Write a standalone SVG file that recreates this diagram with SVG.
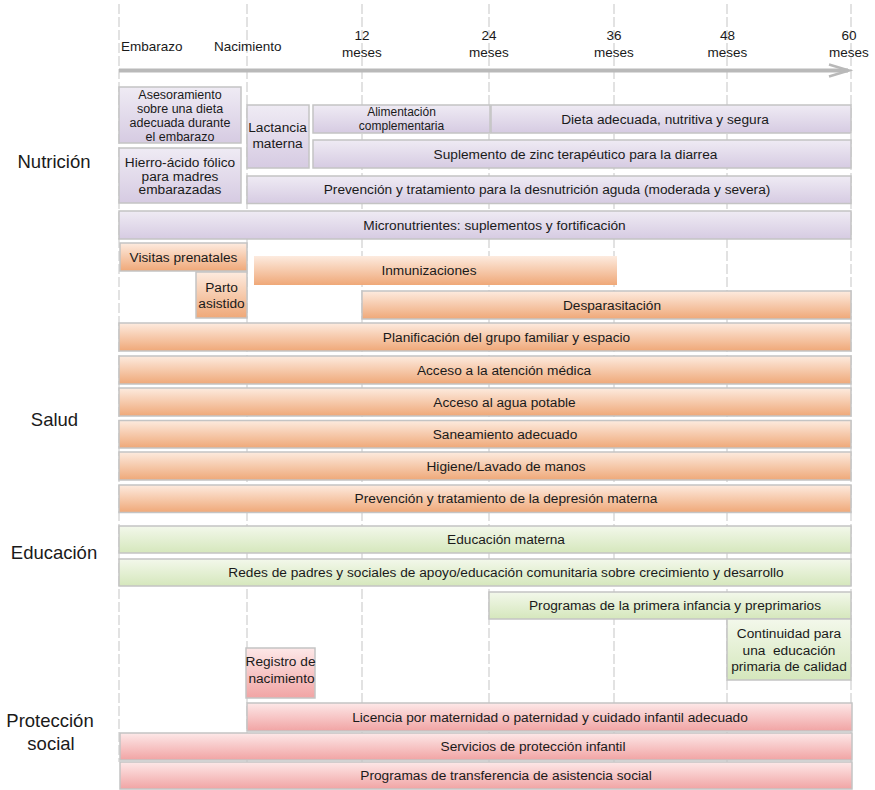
<svg xmlns="http://www.w3.org/2000/svg" width="875" height="790" viewBox="0 0 875 790">
<defs>
<linearGradient id="gN" x1="0" y1="0" x2="0" y2="1"><stop offset="0" stop-color="#efebf4"/><stop offset="1" stop-color="#d6cbe2"/></linearGradient>
<linearGradient id="gS" x1="0" y1="0" x2="0" y2="1"><stop offset="0" stop-color="#fdebdf"/><stop offset="1" stop-color="#efa878"/></linearGradient>
<linearGradient id="gE" x1="0" y1="0" x2="0" y2="1"><stop offset="0" stop-color="#f3f8eb"/><stop offset="1" stop-color="#d5e7bc"/></linearGradient>
<linearGradient id="gP" x1="0" y1="0" x2="0" y2="1"><stop offset="0" stop-color="#fde8e8"/><stop offset="1" stop-color="#f1a4a4"/></linearGradient>
</defs>
<style>
text{font-family:"Liberation Sans",Arial,sans-serif;fill:#1a1a1a;}
.t{font-size:13.7px;text-anchor:middle;}
.ts{font-size:12.5px;text-anchor:middle;}
.tx{font-size:12px;text-anchor:middle;}
.h{font-size:13.5px;}
.hm{font-size:13.5px;text-anchor:middle;}
.cat{font-size:18.5px;text-anchor:middle;}
.grid line{stroke:#cfcfcf;stroke-width:1.2;stroke-dasharray:10 3;}
.n rect,.s rect,.e rect,.p rect{stroke:#c4c4c4;stroke-width:1.5;}
.n rect{fill:url(#gN);}
.s rect{fill:url(#gS);}
.e rect{fill:url(#gE);}
.p rect{fill:url(#gP);}
.s rect.nb{stroke:none;}
</style>
<rect x="0" y="0" width="875" height="790" fill="#ffffff"/>
<g class="grid" id="gridlines">
<line x1="119" y1="4" x2="119" y2="762"/>
<line x1="247" y1="4" x2="247" y2="762"/>
<line x1="362" y1="4" x2="362" y2="762"/>
<line x1="489" y1="4" x2="489" y2="762"/>
<line x1="614" y1="4" x2="614" y2="762"/>
<line x1="727" y1="4" x2="727" y2="762"/>
<line x1="851" y1="4" x2="851" y2="762"/>
</g>
<g id="header">
<text class="h" x="121" y="51">Embarazo</text>
<text class="h" x="214" y="51">Nacimiento</text>
<text class="hm" x="362" y="40">12</text><text class="hm" x="362" y="57">meses</text>
<text class="hm" x="489" y="40">24</text><text class="hm" x="489" y="57">meses</text>
<text class="hm" x="614" y="40">36</text><text class="hm" x="614" y="57">meses</text>
<text class="hm" x="727.5" y="40">48</text><text class="hm" x="727.5" y="57">meses</text>
<text class="hm" x="849" y="40">60</text><text class="hm" x="849" y="57">meses</text>
</g>
<g id="connectors">
<line x1="119" y1="70.5" x2="848" y2="70.5" stroke="#b9b9b9" stroke-width="4"/>
<polyline points="829,64.5 849,70.5 829,76.5" fill="none" stroke="#b9b9b9" stroke-width="2.5"/>
</g>
<g id="categories">
<text class="cat" x="54" y="167.5">Nutrición</text>
<text class="cat" x="54.5" y="426">Salud</text>
<text class="cat" x="54" y="559">Educación</text>
<text class="cat" x="50" y="727">Protección</text>
<text class="cat" x="51" y="750">social</text>
</g>
<g class="n">
<g id="n1"><rect x="119" y="87" width="122" height="56"/><text class="ts" x="180" y="98.5">Asesoramiento</text><text class="ts" x="180" y="112.5">sobre una dieta</text><text class="ts" x="180" y="126.5">adecuada durante</text><text class="ts" x="180" y="140.5">el embarazo</text></g>
<g id="n2"><rect x="119" y="148" width="122" height="55"/><text class="t" x="180" y="167">Hierro-ácido fólico</text><text class="t" x="180" y="180.5">para madres</text><text class="t" x="180" y="194">embarazadas</text></g>
<g id="n3"><rect x="247" y="105" width="62" height="63"/><text class="t" x="277.5" y="132">Lactancia</text><text class="t" x="277.5" y="148">materna</text></g>
<g id="n4"><rect x="313" y="105" width="177" height="28"/><text class="tx" x="401.5" y="116">Alimentación</text><text class="tx" x="401.5" y="130">complementaria</text></g>
<g id="n5"><rect x="491" y="105" width="360" height="28"/><text class="t" x="665" y="124">Dieta adecuada, nutritiva y segura</text></g>
<g id="n6"><rect x="313" y="140" width="538" height="28"/><text class="t" x="575.5" y="158.5">Suplemento de zinc terapéutico para la diarrea</text></g>
<g id="n7"><rect x="247" y="176" width="604" height="27.5"/><text class="t" x="547" y="194">Prevención y tratamiento para la desnutrición aguda (moderada y severa)</text></g>
<g id="n8"><rect x="119" y="211" width="732" height="28"/><text class="t" x="494.5" y="229.5">Micronutrientes: suplementos y fortificación</text></g>
</g>
<g class="s">
<g id="s1"><rect x="120" y="243" width="127" height="28"/><text class="t" x="183.5" y="261.5">Visitas prenatales</text></g>
<g id="s2"><rect x="196" y="272" width="51" height="46"/><text class="t" x="221.5" y="291.5">Parto</text><text class="t" x="221.5" y="308">asistido</text></g>
<g id="s3"><rect class="nb" x="254" y="256" width="363" height="29"/><text class="t" x="429" y="275">Inmunizaciones</text></g>
<g id="s4"><rect x="362" y="291" width="489" height="28"/><text class="t" x="612" y="309.5">Desparasitación</text></g>
<g id="s5"><rect x="119" y="323" width="732" height="28"/><text class="t" x="506.5" y="341.5">Planificación del grupo familiar y espacio</text></g>
<g id="s6"><rect x="119" y="356" width="732" height="28"/><text class="t" x="504" y="374.5">Acceso a la atención médica</text></g>
<g id="s7"><rect x="119" y="388" width="732" height="28"/><text class="t" x="504.5" y="406.5">Acceso al agua potable</text></g>
<g id="s8"><rect x="119" y="420.5" width="732" height="27.5"/><text class="t" x="505" y="438.5">Saneamiento adecuado</text></g>
<g id="s9"><rect x="119" y="452" width="732" height="28"/><text class="t" x="506" y="470.5">Higiene/Lavado de manos</text></g>
<g id="s10"><rect x="119" y="485" width="732" height="27.5"/><text class="t" x="506" y="503">Prevención y tratamiento de la depresión materna</text></g>
</g>
<g class="e">
<g id="e1"><rect x="119" y="526" width="732" height="27"/><text class="t" x="506" y="544">Educación materna</text></g>
<g id="e2"><rect x="119" y="559" width="732" height="27"/><text class="t" x="506" y="577">Redes de padres y sociales de apoyo/educación comunitaria sobre crecimiento y desarrollo</text></g>
<g id="e3"><rect x="489" y="592" width="362" height="27"/><text class="t" x="675" y="610">Programas de la primera infancia y preprimarios</text></g>
<g id="e4"><rect x="727" y="619" width="124" height="61"/><text class="t" x="789" y="638">Continuidad para</text><text class="t" x="789" y="654.5" style="white-space:pre">una  educación</text><text class="t" x="789" y="671">primaria de calidad</text></g>
</g>
<g class="p">
<g id="p1"><rect x="246" y="648" width="69" height="50"/><text class="t" x="280.5" y="665.5">Registro de</text><text class="t" x="281.5" y="682.5">nacimiento</text></g>
<g id="p2"><rect x="247" y="703" width="605" height="28"/><text class="t" x="550" y="721.5">Licencia por maternidad o paternidad y cuidado infantil adecuado</text></g>
<g id="p3"><rect x="120" y="733" width="732" height="27"/><text class="t" x="533" y="751">Servicios de protección infantil</text></g>
<g id="p4"><rect x="120" y="762" width="732" height="27"/><text class="t" x="506" y="780">Programas de transferencia de asistencia social</text></g>
</g>
</svg>
